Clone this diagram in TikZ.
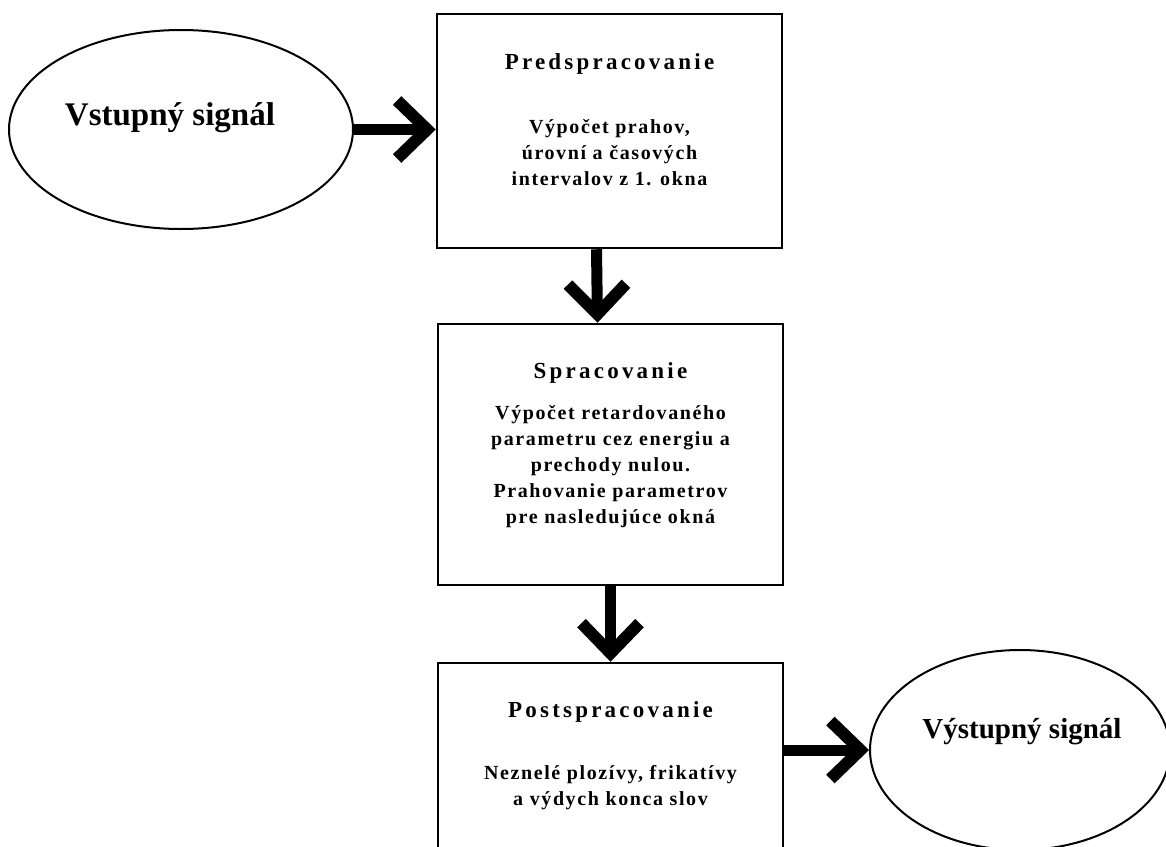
\documentclass[tikz,border=0pt]{standalone}
\usepackage{fontspec}
\setmainfont{Liberation Serif}
\newfontfamily\titlefont[LetterSpace=14]{Liberation Serif}
\newfontfamily\bodyfont[LetterSpace=8]{Liberation Serif}
\usetikzlibrary{arrows.meta,shapes.geometric}

\tikzset{
  stepbox/.style={draw, line width=2.5pt, rectangle, minimum width=345pt, inner sep=0pt},
  signal/.style={draw, line width=2pt, ellipse, inner sep=0pt},
  boxtitle/.style={anchor=base, inner sep=0pt, font=\titlefont\bfseries\fontsize{23}{26}\selectfont},
  % multi-line text: the base anchor sits on the last line
  boxbody/.style={anchor=base, inner sep=0pt, align=center, font=\bodyfont\bfseries\fontsize{20}{26}\selectfont},
  conn/.style={line width=11pt, -{Straight Barb[length=30pt, width=58pt, line width=12pt]}},
}

\begin{document}
\begin{tikzpicture}[x=1pt, y=-1pt]
\useasboundingbox (0,0) rectangle (1166,846);
\clip (0,0) rectangle (1166,846);

% signals
\node[signal, minimum width=344pt, minimum height=199pt] (inE) at (181,129.5) {};
\node[anchor=base, inner sep=0pt, font=\bfseries\fontsize{33}{36}\selectfont] (inT) at (170,125) {Vstupný signál};

\node[signal, minimum width=300pt, minimum height=200pt] (outE) at (1020,750) {};
\node[anchor=base, inner sep=0pt, font=\bfseries\fontsize{29}{32}\selectfont] (outT) at (1022,738) {Výstupný signál};

% processing stages
\node[stepbox, minimum height=234pt] (box1) at (609.5,131) {};
\node[boxtitle] (t1) at (609.5,69) {Predspracovanie};
\node[boxbody] (b1) at (609.5,185) {Výpočet prahov,\\úrovní a časových\\intervalov z 1. okna};

\node[stepbox, minimum height=261pt] (box2) at (610.5,454.5) {};
\node[boxtitle] (t2) at (610.5,378) {Spracovanie};
\node[boxbody] (b2) at (610.5,523) {Výpočet retardovaného\\parametru cez energiu a\\prechody nulou.\\Prahovanie parametrov\\pre nasledujúce okná};

\node[stepbox, minimum height=217pt] (box3) at (610.5,771.5) {};
\node[boxtitle] (t3) at (610.5,717) {Postspracovanie};
\node[boxbody] (b3) at (610.5,805) {Neznelé plozívy, frikatívy\\a výdych konca slov};

% connectors
\draw[conn] (inE.east) -- (inE.east -| box1.west);
\draw[conn] ([xshift=-13pt]box1.south) -- ([xshift=-13pt]box2.north);
\draw[conn] (box2.south) -- (box3.north);
\draw[conn] (outE.west -| box3.east) -- (outE.west);
\end{tikzpicture}
\end{document}
